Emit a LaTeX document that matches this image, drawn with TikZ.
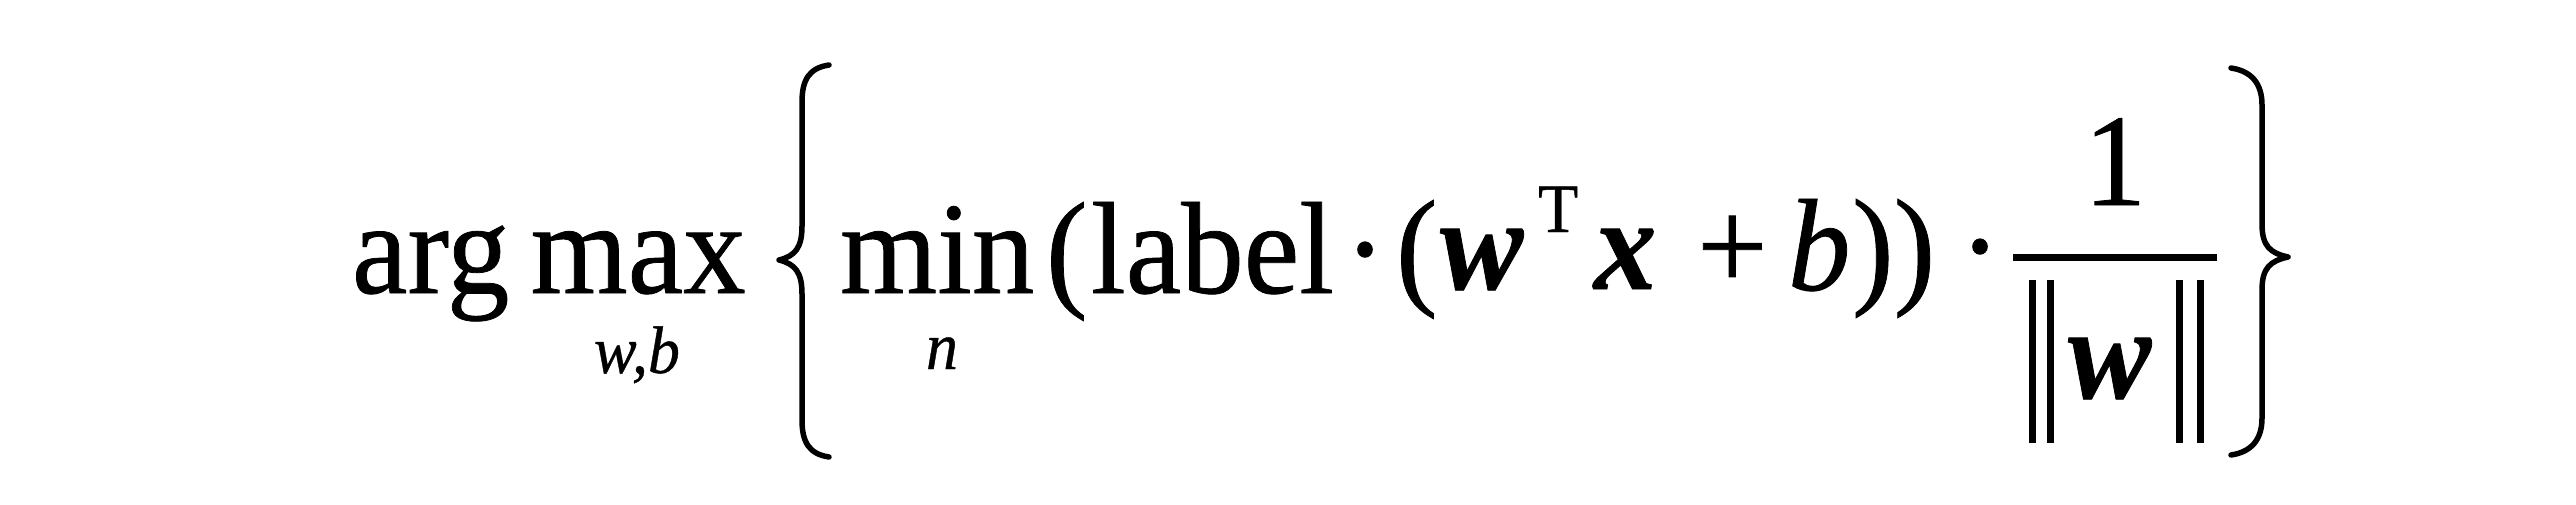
\documentclass[tikz,border=0pt]{standalone}
\usepackage{fontspec}
\setmainfont{Liberation Serif}[FakeBold=0.6]
\begin{document}
\begin{tikzpicture}[x=1pt,y=-1pt,
  big/.style={anchor=base west,inner sep=0,outer sep=0,font=\fontsize{125}{130}\selectfont,yscale=1.05},
  small/.style={anchor=base west,inner sep=0,outer sep=0,font=\fontsize{64}{70}\selectfont\itshape,yscale=1.05},
  bi/.style={big,font=\fontsize{125}{130}\selectfont\bfseries\itshape},
  brace/.style={line width=5.5pt,line cap=round,line join=round},
  normbar/.style={line width=7pt}]
\useasboundingbox (0,0) rectangle (2576,504);
% arg max over w,b
\node[big] (argmax) at (352,293) {arg\hspace{0.17em}max};
\node[small] (wb) at (594,373) {w,b};
% left brace
\draw[brace] (829,65) .. controls (809,68) and (802,80) .. (802,102) -- (802,226) .. controls (802,248) and (795,256) .. (779,260) .. controls (795,264) and (802,272) .. (802,294) -- (802,420) .. controls (802,442) and (809,454) .. (829,457);
% min over n
\node[big] (min) at (840,293) {min};
\node[small] (n) at (926,369) {n};
\node[big] (lp) at (1046,293) {(};
\node[big] (label) at (1091,293) {label};
\node[big,anchor=base] (dot1) at (1365,293) {·};
\node[big] (lp2) at (1396,291) {(};
\node[bi] (w) at (1440,289) {w};
\node[small,font=\fontsize{66}{70}\selectfont] (T) at (1538,232) {T};
\node[bi] (x) at (1594,289) {x};
\node[big] (plus) at (1697,290) {+};
\node[big,font=\fontsize{125}{130}\selectfont\itshape] (b) at (1788,290) {b};
\node[big] (rp) at (1852,290) {))};
\node[big,anchor=base] (dot2) at (1980,290) {·};
% fraction 1 / ||w||
\coordinate (barL) at (2013,257);
\coordinate (barR) at (2217,257);
\draw[line width=7pt] (barL) -- (barR);
\node[big,anchor=base] (one) at (2115,205) {1};
\draw[normbar] (2032,280) -- (2032,443);
\draw[normbar] (2050,280) -- (2050,443);
\node[bi] (wd) at (2068,398) {w};
\draw[normbar] (2179,280) -- (2179,443);
\draw[normbar] (2200,280) -- (2200,443);
% right brace
\draw[brace] (2231,68) .. controls (2251,71) and (2262,83) .. (2262,105) -- (2262,224) .. controls (2262,246) and (2270,253) .. (2288,257) .. controls (2270,261) and (2262,268) .. (2262,290) -- (2262,418) .. controls (2262,440) and (2251,452) .. (2231,455);
\end{tikzpicture}
\end{document}
